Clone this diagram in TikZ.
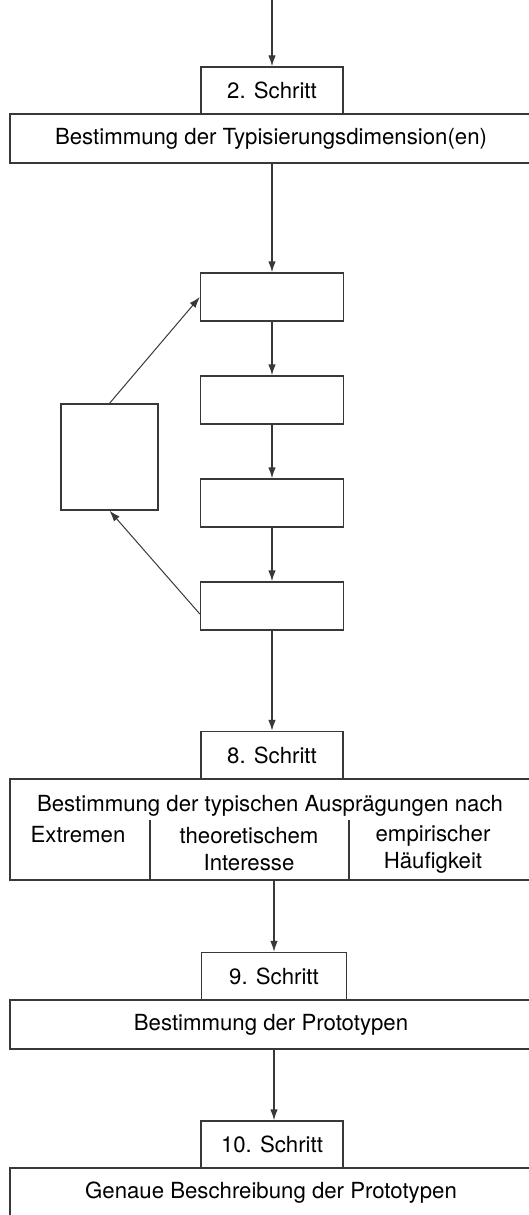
\documentclass[tikz,border=0pt]{standalone}
\usepackage{fontspec}
\setmainfont{TeX Gyre Heros}
\usetikzlibrary{arrows.meta}

\begin{document}
\begin{tikzpicture}
[x=1pt,y=-1pt, >={Latex[length=11pt,width=7.5pt]}, line width=1.3pt, draw=black!78,
			every node/.style={font=\fontsize{22.2}{27}\selectfont, inner sep=0pt},
			schritt/.style={rectangle,draw,minimum width=142pt,minimum height=47pt},
			stufe/.style={rectangle,draw,minimum width=522pt,minimum height=49pt},
			leer/.style={rectangle,draw,minimum width=143pt,minimum height=48pt}]
\useasboundingbox (0,0) rectangle (529,1215);
\clip (0,0) rectangle (529,1215);

\coordinate (anfang) at (272,0);
\node (s2) at (272,90.5)[schritt] {2. Schritt};
\node (d2) at (271,138.5)[stufe] {Bestimmung der Typisierungsdimension(en)};

\node (b1) at (272,297)[leer] {};
\node (b2) at (272,400)[leer] {};
\node (b3) at (272,503)[leer] {};
\node (b4) at (272,606)[leer] {};
\node (rueck) at (109.5,457)[rectangle,draw,minimum width=97pt,minimum height=106pt] {};

\node (s8) at (272,755)[schritt] {8. Schritt};
\node (d8) at (271,829.5)[stufe,minimum height=101pt] {};
\node (t8) at (270,806) {Bestimmung der typischen Ausprägungen nach};
\node (k1) at (78,835) {Extremen};
\node (k2) at (249,849)[align=center] {theoretischem\\Interesse};
\node (k3) at (433,849)[align=center] {empirischer\\Häufigkeit};
\coordinate (g1) at (150,820);
\coordinate (g2) at (349,820);

\node (s9) at (274,976)[schritt,minimum width=145pt] {9. Schritt};
\node (d9) at (271,1024.5)[stufe] {Bestimmung der Prototypen};
\node (s10) at (272,1144.5)[schritt] {10. Schritt};
\node (d10) at (271,1192.5)[stufe] {Genaue Beschreibung der Prototypen};

\draw[->] (anfang) -- (s2);
\draw[->] (d2.south -| b1) -- (b1);
\draw[->] (b1) -- (b2);
\draw[->] (b2) -- (b3);
\draw[->] (b3) -- (b4);
\draw[->] (b4) -- (s8);
\draw[->,line width=1pt] (rueck.north) -- (b1.west);
\draw[->,line width=1pt] ([yshift=-8pt]b4.west) -- (rueck.south);
\draw (g1) -- (g1 |- d8.south);
\draw (g2) -- (g2 |- d8.south);
\draw[->] (d8.south -| s9) -- (s9);
\draw[->] (d9.south -| s9) -- (s9.north |- s10.north);
\end{tikzpicture}
\end{document}
